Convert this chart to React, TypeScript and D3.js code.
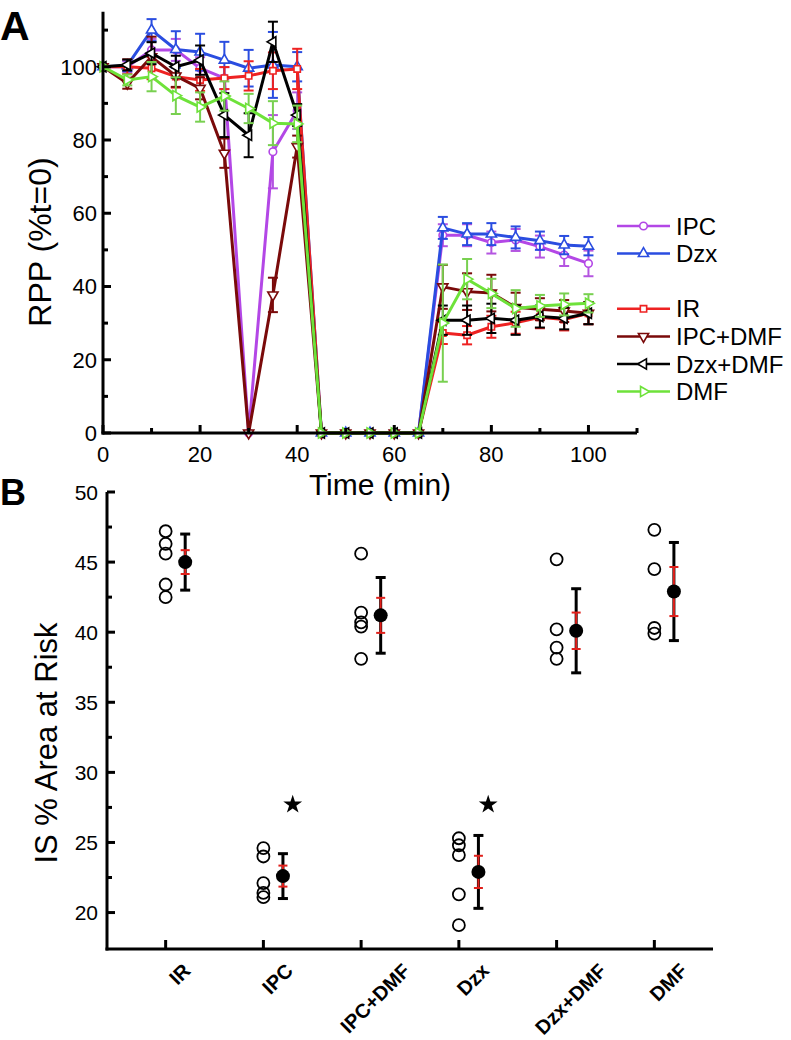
import React from 'react';
import * as d3 from 'd3';

// ---------- Panel A data ----------
const times = [0, 5, 10, 15, 20, 25, 30, 35, 40, 45, 50, 55, 60, 65, 70, 75, 80, 85, 90, 95, 100];
const seriesNames = ['IPC', 'Dzx', 'IR', 'IPC+DMF', 'Dzx+DMF', 'DMF'];
const ipcRPP = [100, 100, 104.6, 104.6, 99.6, 96.9, 0, 76.8, 88, 0, 0, 0, 0, 0, 54, 54, 52, 52.7, 50.9, 48.6, 46.3];
const ipcErr = [0, 1.5, 3, 3, 3, 3, 0, 10, 5, 0, 0, 0, 0, 0, 3, 3, 3, 3, 3, 3, 3.5];
const dzxRPP = [100, 100.3, 110, 104.7, 104, 101.8, 99.6, 100.5, 100, 0, 0, 0, 0, 0, 56, 54.3, 54.3, 53.4, 52.5, 51.3, 51];
const dzxErr = [0, 1.5, 3, 5, 5, 5, 5, 9, 4, 0, 0, 0, 0, 0, 3, 3, 3, 3, 2.5, 2.5, 2.5];
const irRPP = [100, 100, 99.6, 97.3, 96.4, 96.9, 97.5, 98.9, 99.4, 0, 0, 0, 0, 0, 27.3, 26.7, 29, 30.1, 31.6, 31, 32.7];
const irErr = [0, 2, 3, 3, 3, 3, 4, 5, 5.5, 0, 0, 0, 0, 0, 3, 2.5, 3, 3, 3, 3, 3];
const ipcDmfRPP = [100, 95.5, 102.7, 97.5, 94.1, 76.4, 0, 37.7, 78.2, 0, 0, 0, 0, 0, 39.9, 38.6, 38.2, 34.3, 33.8, 33.3, 32.7];
const ipcDmfErr = [0, 1.5, 5.5, 3, 3, 4, 0, 4.7, 3, 0, 0, 0, 0, 0, 6, 5, 5, 4, 3, 3, 3];
const dzxDmfRPP = [100, 100.5, 103.7, 100, 101.8, 86.8, 81.3, 106.8, 86.8, 0, 0, 0, 0, 0, 30.8, 30.8, 31.3, 30.8, 31.8, 31.3, 32.7];
const dzxDmfErr = [0, 1.5, 3, 3, 4, 6, 6, 5.5, 3, 0, 0, 0, 0, 0, 4, 4, 4, 4, 3, 3, 3];
const dmfRPP = [100, 96.4, 97.3, 92.1, 89, 92, 88.6, 84.6, 84.4, 0, 0, 0, 0, 0, 30, 42, 38.1, 34, 34.7, 35.1, 35.4];
const dmfErr = [0, 1.5, 4, 5, 4, 4, 4, 6, 5, 0, 0, 0, 0, 0, 16, 5.5, 4, 5, 3, 3, 2.5];
const rppTicks = [0, 20, 40, 60, 80, 100];
const timeTicks = [0, 20, 40, 60, 80, 100];

// ---------- Panel B data ----------
const groups = ['IR', 'IPC', 'IPC+DMF', 'Dzx', 'Dzx+DMF', 'DMF'];
const irIS = [47.2, 46.3, 45.6, 43.4, 42.5];
const ipcIS = [24.6, 24.0, 22.1, 21.4, 21.1];
const ipcDmfIS = [45.6, 41.4, 40.7, 40.4, 38.1];
const dzxIS = [25.3, 24.8, 24.1, 21.3, 19.1];
const dzxDmfIS = [45.2, 40.2, 38.9, 38.1];
const dmfIS = [47.3, 44.5, 40.3, 39.9];
const isMeans = [45.0, 22.6, 41.2, 22.9, 40.1, 42.9];
const isSD = [2.0, 1.6, 2.7, 2.6, 3.0, 3.5];
const isSEM = [0.85, 0.75, 1.25, 1.15, 1.3, 1.75];
const starGroups = ['IPC', 'Dzx'];
const starLevel = 27.7;
const isTicks = [20, 25, 30, 35, 40, 45, 50];

const FONT = '"Liberation Sans", Arial, Helvetica, sans-serif';

const seriesData = [ipcRPP, dzxRPP, irRPP, ipcDmfRPP, dzxDmfRPP, dmfRPP];
const seriesErr = [ipcErr, dzxErr, irErr, ipcDmfErr, dzxDmfErr, dmfErr];
const seriesStyle = [
  { color: '#b347e6', bar: '#b455e0', symbol: d3.symbolCircle, size: 45, rot: 0 },
  { color: '#2a4de0', bar: '#2a4de0', symbol: d3.symbolTriangle, size: 45, rot: 0 },
  { color: '#ee2222', bar: '#ee2222', symbol: d3.symbolSquare, size: 40, rot: 0 },
  { color: '#7a0a0a', bar: '#7a0a0a', symbol: d3.symbolTriangle, size: 45, rot: 180 },
  { color: '#000000', bar: '#000000', symbol: d3.symbolTriangle, size: 45, rot: -90 },
  { color: '#6ee23a', bar: '#78d050', symbol: d3.symbolTriangle, size: 45, rot: 90 },
];
const legendRows = [0, 1, 3, 4, 5, 6];
const isPoints = [irIS, ipcIS, ipcDmfIS, dzxIS, dzxDmfIS, dmfIS];

// approximate bold glyph advance widths (em) for label length estimate
const BOLD_W: Record<string, number> = { I: 0.278, R: 0.722, P: 0.667, C: 0.722, '+': 0.584, D: 0.722, M: 0.833, F: 0.611, z: 0.5, x: 0.556 };
const textLen = (s: string, fs: number) => s.split('').reduce((a, c) => a + (BOLD_W[c] ?? 0.6), 0) * fs;

export default function App() {
  const xA = d3.scaleLinear().domain([0, 110]).range([103, 637]);
  const yA = d3.scaleLinear().domain([0, 115]).range([433, 11.8]);
  const xB = d3.scaleLinear().domain([0.4, 6.6]).range([107, 713]);
  const yB = d3.scaleLinear().domain([17.4, 50]).range([949, 492]);

  const line = d3
    .line<number>()
    .x((_d, i) => xA(times[i]))
    .y((d) => yA(d));

  const sym = (s: any, size: number) => d3.symbol(s, size)() as string;

  const minorA = d3.range(10, 111, 20);
  const minorB = d3.range(22.5, 50, 5);

  return (
    <svg width={791} height={1040} style={{ position: 'absolute', left: 0, top: 0 }} fontFamily={FONT}>
      <rect width={791} height={1040} fill="#fff" />
      {/* ===== Panel A ===== */}
      <text x={0} y={40} fontSize={41} fontWeight="bold">A</text>
      {seriesData.map((vals, si) => {
        const st = seriesStyle[si];
        const err = seriesErr[si];
        return (
          <g key={seriesNames[si]}>
            {vals.map((v, i) =>
              err[i] > 0 ? (
                <g key={i} stroke={st.bar} strokeWidth={2}>
                  <line x1={xA(times[i])} x2={xA(times[i])} y1={yA(v - err[i])} y2={yA(v + err[i])} />
                  <line x1={xA(times[i]) - 5} x2={xA(times[i]) + 5} y1={yA(v - err[i])} y2={yA(v - err[i])} />
                  <line x1={xA(times[i]) - 5} x2={xA(times[i]) + 5} y1={yA(v + err[i])} y2={yA(v + err[i])} />
                </g>
              ) : null
            )}
            <path d={line(vals) as string} fill="none" stroke={st.color} strokeWidth={3} strokeLinejoin="round" />
            {vals.map((v, i) => (
              <path
                key={'m' + i}
                d={sym(st.symbol, st.size)}
                transform={`translate(${xA(times[i])},${yA(v)}) rotate(${st.rot})`}
                fill="#fff"
                stroke={st.color}
                strokeWidth={1.6}
              />
            ))}
          </g>
        );
      })}
      {/* axes A */}
      <g stroke="#000" strokeWidth={3} fill="none">
        <line x1={xA(0)} x2={xA(0)} y1={yA(115)} y2={yA(0) + 1.5} />
        <line x1={xA(0) - 1.5} x2={xA(110)} y1={yA(0)} y2={yA(0)} />
        {rppTicks.map((t) => (
          <line key={'ya' + t} x1={xA(0)} x2={xA(0) + 8} y1={yA(t)} y2={yA(t)} />
        ))}
        {minorA.map((t) => (
          <line key={'yam' + t} x1={xA(0)} x2={xA(0) + 5} y1={yA(t)} y2={yA(t)} />
        ))}
        {timeTicks.map((t) => (
          <line key={'xa' + t} x1={xA(t)} x2={xA(t)} y1={yA(0)} y2={yA(0) - 8} />
        ))}
        {minorA.map((t) => (
          <line key={'xam' + t} x1={xA(t)} x2={xA(t)} y1={yA(0)} y2={yA(0) - 5} />
        ))}
      </g>
      <g fontSize={22} fill="#000">
        {rppTicks.map((t) => (
          <text key={'yl' + t} x={xA(0) - 6} y={yA(t)} dy="0.36em" textAnchor="end">{t}</text>
        ))}
        {timeTicks.map((t) => (
          <text key={'xl' + t} x={xA(t)} y={yA(0) + 29} textAnchor="middle">{t}</text>
        ))}
      </g>
      <text x={380} y={495} fontSize={30} textAnchor="middle">Time (min)</text>
      <text transform={`translate(51,242) rotate(-90)`} fontSize={32} textAnchor="middle">RPP (%t=0)</text>
      {/* legend A */}
      {seriesNames.map((name, si) => {
        const st = seriesStyle[si];
        const y = 226 + legendRows[si] * 27.6;
        return (
          <g key={'lg' + name}>
            <line x1={617} x2={670} y1={y} y2={y} stroke={st.color} strokeWidth={2.5} />
            <path d={sym(st.symbol, st.size)} transform={`translate(643.5,${y}) rotate(${st.rot})`} fill="#fff" stroke={st.color} strokeWidth={1.6} />
            <text x={676} y={y + 8.5} fontSize={24}>{name}</text>
          </g>
        );
      })}

      {/* ===== Panel B ===== */}
      <text x={0} y={505} fontSize={36} fontWeight="bold">B</text>
      <g stroke="#000" strokeWidth={3} fill="none">
        <line x1={xB(0.4)} x2={xB(0.4)} y1={yB(50)} y2={yB(17.4) + 1.5} />
        <line x1={xB(0.4) - 1.5} x2={xB(6.6)} y1={yB(17.4)} y2={yB(17.4)} />
        {isTicks.map((t) => (
          <line key={'yb' + t} x1={xB(0.4)} x2={xB(0.4) + 8} y1={yB(t)} y2={yB(t)} />
        ))}
        {minorB.map((t) => (
          <line key={'ybm' + t} x1={xB(0.4)} x2={xB(0.4) + 5} y1={yB(t)} y2={yB(t)} />
        ))}
        {groups.map((g, i) => (
          <line key={'xb' + g} x1={xB(i + 1)} x2={xB(i + 1)} y1={yB(17.4)} y2={yB(17.4) - 9} />
        ))}
      </g>
      <g fontSize={21} fill="#000">
        {isTicks.map((t) => (
          <text key={'ybl' + t} x={xB(0.4) - 9} y={yB(t)} dy="0.36em" textAnchor="end">{t}</text>
        ))}
      </g>
      {groups.map((g, i) => {
        const L = textLen(g, 20);
        const cx = xB(i + 1) + 14;
        const cy = 967 + 0.354 * L;
        return (
          <text
            key={'xbl' + g}
            x={0}
            y={7}
            textAnchor="middle"
            fontSize={20}
            fontWeight="bold"
            fill="#000"
            style={{ transform: `translate(${cx}px, ${cy}px) rotate(-45deg)`, transformOrigin: '0 0', transformBox: 'view-box' }}
          >
            {g}
          </text>
        );
      })}
      <text transform={`translate(57,743) rotate(-90)`} fontSize={31} textAnchor="middle">IS % Area at Risk</text>
      {groups.map((g, i) => {
        const cx = xB(i + 1.2);
        const m = isMeans[i];
        return (
          <g key={'grp' + g}>
            {isPoints[i].map((v, j) => (
              <circle key={j} cx={xB(i + 1)} cy={yB(v)} r={6} fill="none" stroke="#000" strokeWidth={1.8} />
            ))}
            <g stroke="#000" strokeWidth={3}>
              <line x1={cx} x2={cx} y1={yB(m - isSD[i])} y2={yB(m + isSD[i])} />
              <line x1={cx - 5} x2={cx + 5} y1={yB(m - isSD[i])} y2={yB(m - isSD[i])} />
              <line x1={cx - 5} x2={cx + 5} y1={yB(m + isSD[i])} y2={yB(m + isSD[i])} />
            </g>
            <g stroke="#e0201b" strokeWidth={2}>
              <line x1={cx} x2={cx} y1={yB(m - isSEM[i])} y2={yB(m + isSEM[i])} />
              <line x1={cx - 4.5} x2={cx + 4.5} y1={yB(m - isSEM[i])} y2={yB(m - isSEM[i])} />
              <line x1={cx - 4.5} x2={cx + 4.5} y1={yB(m + isSEM[i])} y2={yB(m + isSEM[i])} />
            </g>
            <circle cx={cx} cy={yB(m)} r={7} fill="#000" />
            {starGroups.includes(g) ? (
              <path d={sym(d3.symbolStar, 110)} transform={`translate(${xB(i + 1.3)},${yB(starLevel)})`} fill="#000" />
            ) : null}
          </g>
        );
      })}
    </svg>
  );
}
